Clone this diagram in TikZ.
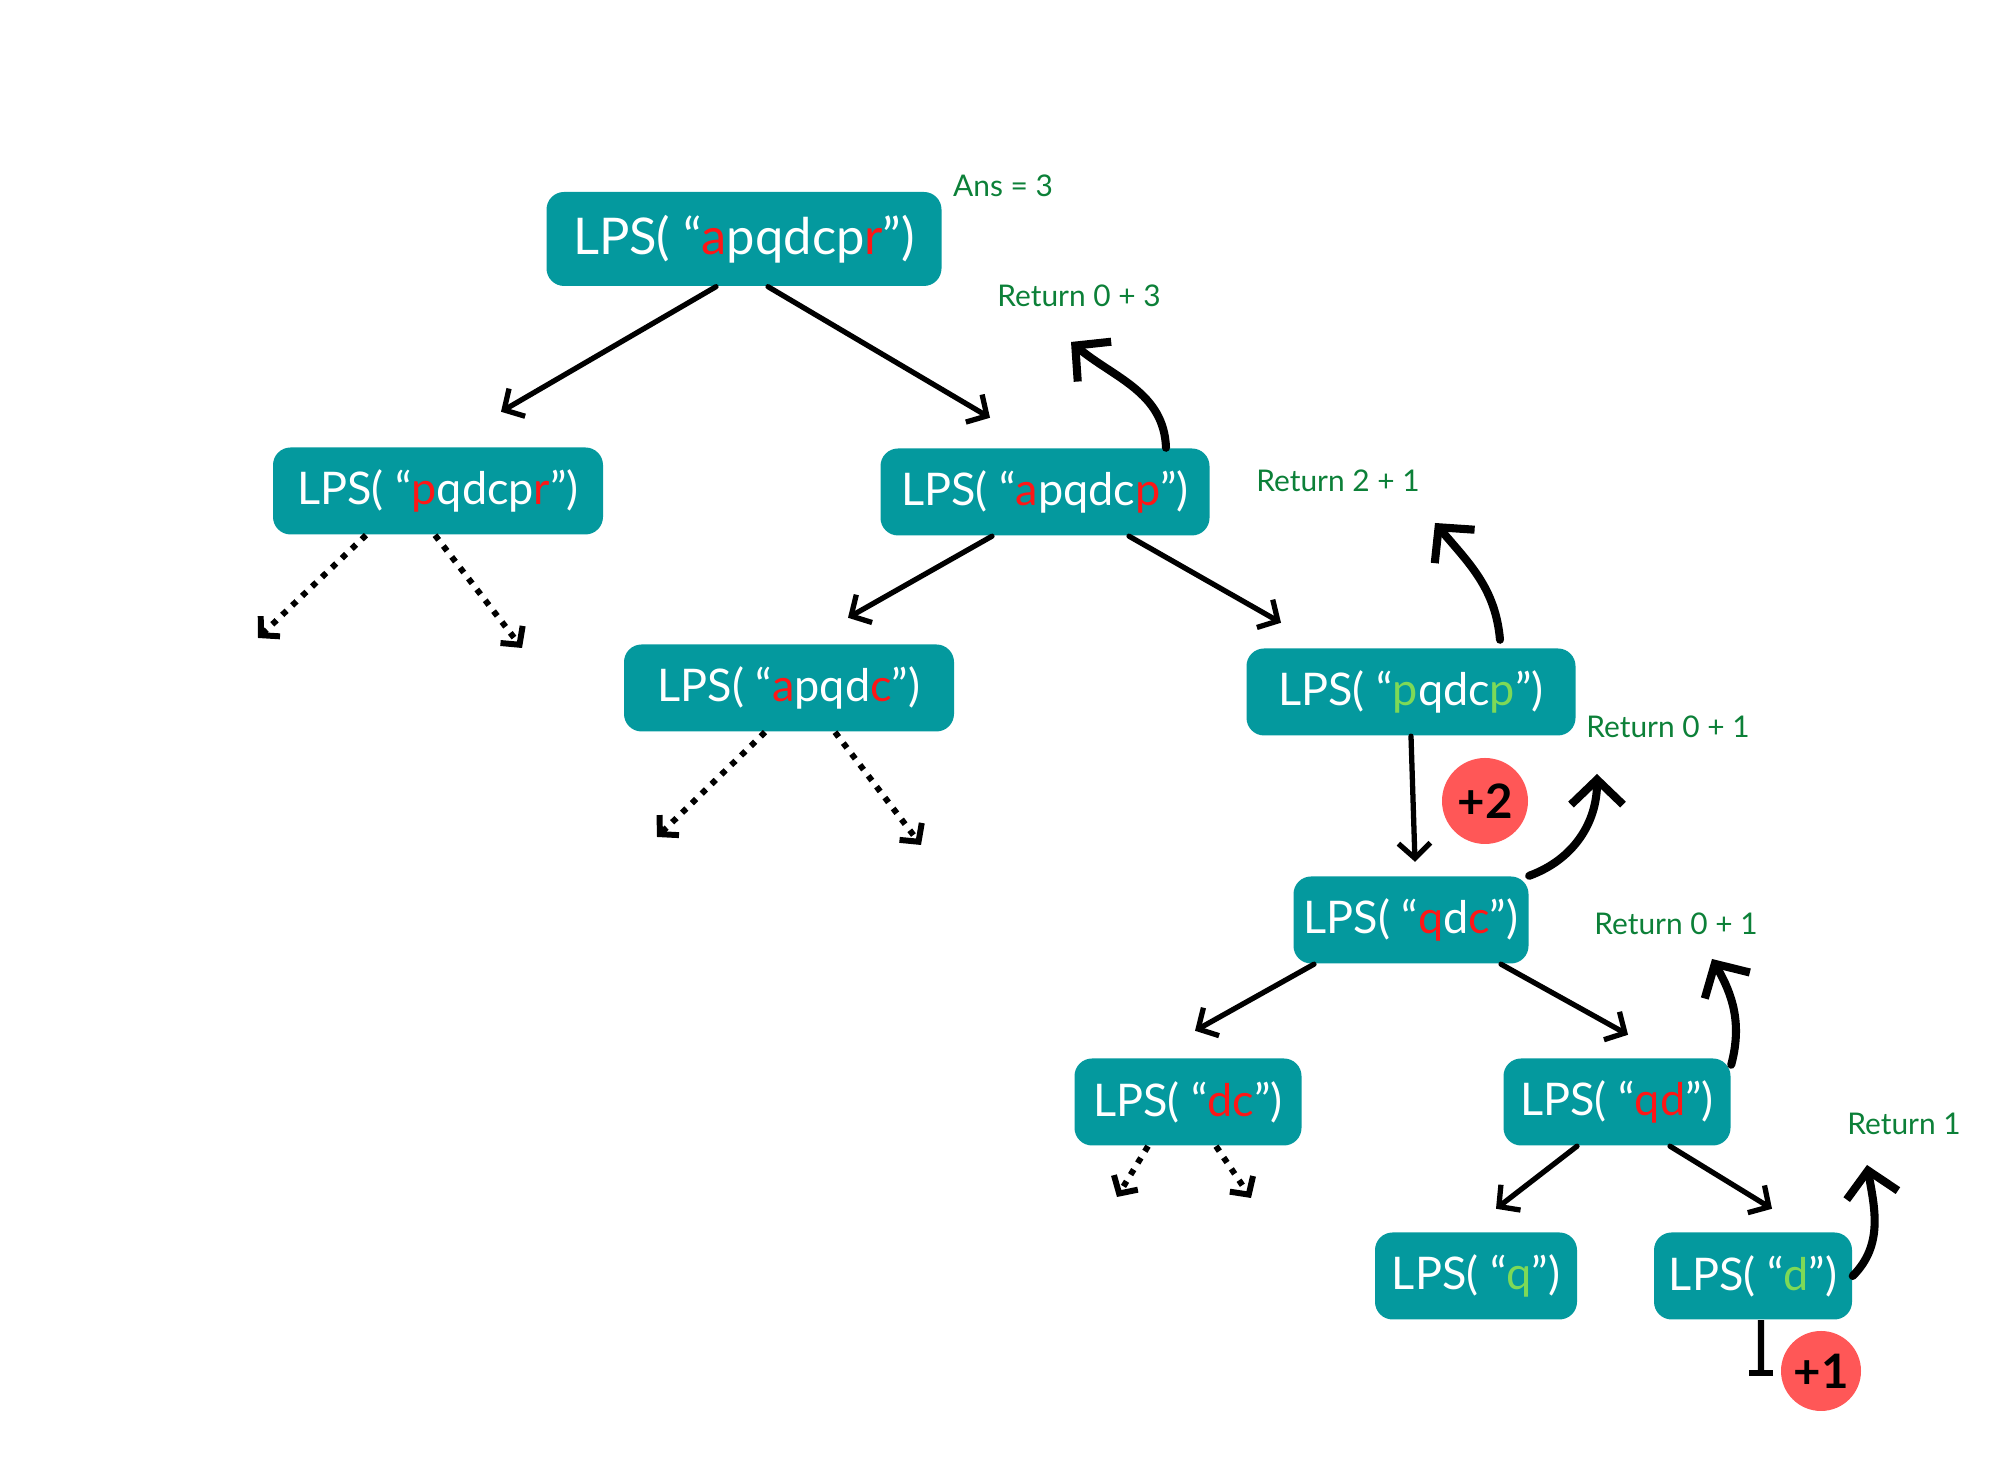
\documentclass[tikz,border=0pt]{standalone}
\usepackage{fontspec}
\setmainfont{Lato}
\usepackage{tikz}
\usetikzlibrary{arrows.meta}
\usetikzlibrary{calc}
\usetikzlibrary{positioning}

\definecolor{lpsteal}{RGB}{4,153,158}
\definecolor{lpsred}{RGB}{255,22,22}
\definecolor{lpsgreen}{RGB}{126,217,87}
\definecolor{retgreen}{RGB}{12,128,56}
\definecolor{badgered}{RGB}{255,87,87}

\newcommand{\rd}[1]{\textcolor{lpsred}{#1}}
\newcommand{\gr}[1]{\textcolor{lpsgreen}{#1}}

\tikzset{
  lps/.style={fill=lpsteal, text=white, rounded corners=5pt, minimum height=0.87cm, inner xsep=0pt, font=\fontsize{12.8}{14}\selectfont},
  ret/.style={text=retgreen, font=\fontsize{8.5}{10}\selectfont},
  badge/.style={circle, fill=badgered, inner sep=0pt, minimum size=0.86cm, font=\bfseries\fontsize{13.5}{14}\selectfont},
  call/.style={line width=1.5pt, line cap=round, -{Straight Barb[length=1.5mm, width=3.2mm]}},
  unexplored/.style={line width=1.7pt, dash pattern=on 1.7pt off 2.2pt, -{Straight Barb[length=1.3mm, width=2.8mm]}},
  back/.style={line width=2.3pt, line cap=round, -{Straight Barb[length=2.5mm, width=5.2mm]}}
}

\begin{document}
\begin{tikzpicture}
              \useasboundingbox (0,0) rectangle (20,14.67);

              % calls
              \draw (7.44,12.28) node[lps, minimum width=3.95cm, minimum height=0.94cm, font=\fontsize{14.4}{16}\selectfont] (root) {LPS( “\rd{a}pqdcp\rd{r}”)};
              \draw (4.38,9.76)  node[lps, minimum width=3.30cm] (pqdcpr) {LPS( “\rd{p}qdcp\rd{r}”)};
              \draw (10.45,9.75) node[lps, minimum width=3.29cm] (apqdcp) {LPS( “\rd{a}pqdc\rd{p}”)};
              \draw (7.89,7.79)  node[lps, minimum width=3.30cm] (apqdc)  {LPS( “\rd{a}pqd\rd{c}”)};
              \draw (14.11,7.75) node[lps, minimum width=3.29cm] (pqdcp)  {LPS( “\gr{p}qdc\gr{p}”)};
              \draw (14.11,5.47) node[lps, minimum width=2.35cm] (qdc)    {LPS( “\rd{q}d\rd{c}”)};
              \draw (11.88,3.65) node[lps, minimum width=2.27cm] (dc)     {LPS( “\rd{dc}”)};
              \draw (16.17,3.65) node[lps, minimum width=2.27cm] (qd)     {LPS( “\rd{qd}”)};
              \draw (14.76,1.91) node[lps, minimum width=2.02cm] (q)      {LPS( “\gr{q}”)};
              \draw (17.53,1.91) node[lps, minimum width=1.98cm] (d)      {LPS( “\gr{d}”)};

              \draw[call] ([xshift=-2.8mm]root.south) -- ($(pqdcpr.north)+(0.63,0.35)$);
              \draw[call] ([xshift=2.4mm]root.south) -- ($(apqdcp.north)+(-0.55,0.30)$);
              \draw[call] ([xshift=-5.3mm]apqdcp.south) -- ($(apqdc.north)+(0.59,0.26)$);
              \draw[call] ([xshift=8.4mm]apqdcp.south) -- ($(pqdcp.north)+(-1.30,0.25)$);
              \draw[call] (pqdcp.south) -- ($(qdc.north)+(0.04,0.14)$);
              \draw[call] ([xshift=-9.7mm]qdc.south) -- ($(dc.north)+(0.07,0.27)$);
              \draw[call] ([xshift=9mm]qdc.south) -- ($(qd.north)+(0.11,0.23)$);
              \draw[call] ([xshift=-4mm]qd.south) -- ($(q.north)+(0.20,0.23)$);
              \draw[call] ([xshift=5.3mm]qd.south) -- ($(d.north)+(0.19,0.23)$);

              % not followed
              \coordinate (pqdcprL) at (2.58,8.29);
              \coordinate (pqdcprR) at (5.22,8.19);
              \coordinate (apqdcL) at (6.57,6.30);
              \coordinate (apqdcR) at (9.21,6.22);
              \coordinate (dcL) at (11.17,2.70);
              \coordinate (dcR) at (12.51,2.69);
              \draw[unexplored] ([xshift=-7.2mm]pqdcpr.south) -- (pqdcprL);
              \draw[unexplored] ([xshift=-0.3mm]pqdcpr.south) -- (pqdcprR);
              \draw[unexplored] ([xshift=-2.4mm]apqdc.south) -- (apqdcL);
              \draw[unexplored] ([xshift=4.6mm]apqdc.south) -- (apqdcR);
              \draw[unexplored] ([xshift=-4mm]dc.south) -- (dcL);
              \draw[unexplored] ([xshift=2.8mm]dc.south) -- (dcR);

              % returns
              \node[ret] (ans) at (10.03,12.81) {Ans = 3};
              \node[ret] (ret3) at (10.79,11.71) {Return 0 + 3};
              \node[ret] (ret21) at (13.38,9.86) {Return 2 + 1};
              \node[ret] (ret01a) at (16.68,7.40) {Return 0 + 1};
              \node[ret] (ret01b) at (16.76,5.43) {Return 0 + 1};
              \node[ret] (ret1) at (19.04,3.43) {Return 1};

              \coordinate (up3) at (10.71,11.25);
              \coordinate (up21) at (14.35,9.44);
              \coordinate (up01a) at (15.97,6.93);
              \coordinate (up01b) at (17.12,5.08);
              \coordinate (up1) at (18.67,3.02);
              \draw[back] ([xshift=12.1mm]apqdcp.north) to[out=92, in=-40] (up3);
              \draw[back] ([xshift=8.9mm, yshift=0.8mm]pqdcp.north) to[out=95, in=-50] (up21);
              \draw[back] (qdc.north east) to[out=20, in=-90] (up01a);
              \draw[back] ([yshift=-0.7mm]qd.north east) to[out=75, in=-60] (up01b);
              \draw[back] (d.east) to[out=45, in=-80] (up1);

              \coordinate (dbase) at (17.61,0.91);
              \draw[line width=1.8pt, -{Bar[width=2.4mm]}] ([xshift=0.8mm]d.south) -- (dbase);

              \node[badge] (plus2) at (14.85,6.66) {+2};
              \node[badge, minimum size=0.8cm] (plus1) at (18.21,0.96) {+1};

\end{tikzpicture}
\end{document}
